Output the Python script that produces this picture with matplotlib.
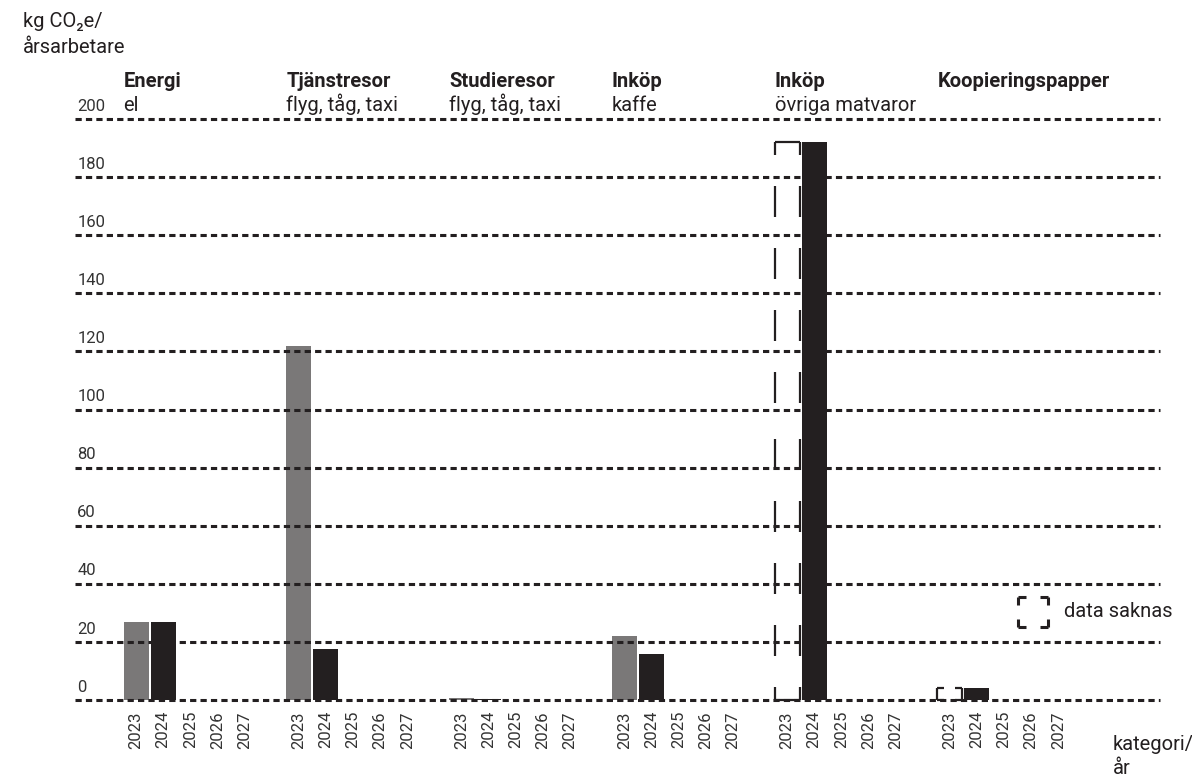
import matplotlib
matplotlib.use("Agg")
import matplotlib.pyplot as plt
from matplotlib.lines import Line2D

plt.rcParams['font.family'] = ['Roboto', 'DejaVu Sans']
plt.rcParams['lines.scale_dashes'] = False

# data
categories = ["Energi", "Tjänstresor", "Studieresor", "Inköp", "Inköp", "Koopieringspapper"]
subtitles = ["el", "flyg, tåg, taxi", "flyg, tåg, taxi", "kaffe", "övriga matvaror", ""]
years = ["2023", "2024", "2025", "2026", "2027"]
values_2023 = [27, 122, 0.6, 22, None, None]
values_2024 = [27, 17.5, 0.4, 16, 192, 4]
# height of the "data saknas" boxes (missing 2023 values)
missing_2023 = [None, None, None, None, 192, 4]
yticks = [0, 20, 40, 60, 80, 100, 120, 140, 160, 180, 200]

DARK = "#231f20"
GREY = "#7a7878"
PX = 0.72  # points per pixel at dpi 100


def dashed_box(ax, x0, x1, y0, y1, corner, on, off, lw=1.6, transform=None):
    # draw the box as half-sides starting from each corner so the corners stay solid
    if transform is None:
        transform = ax.transData
    xm, ym = (x0 + x1) / 2, (y0 + y1) / 2
    segs = [((x0, y0), (xm, y0)), ((x1, y0), (xm, y0)),
            ((x0, y1), (xm, y1)), ((x1, y1), (xm, y1)),
            ((x0, y0), (x0, ym)), ((x0, y1), (x0, ym)),
            ((x1, y0), (x1, ym)), ((x1, y1), (x1, ym))]
    ls = ((on - corner) * PX, (on * PX, off * PX))
    for (a, b) in segs:
        ax.add_line(Line2D([a[0], b[0]], [a[1], b[1]], transform=transform,
                           color=DARK, lw=lw, linestyle=ls, solid_capstyle='butt',
                           dash_capstyle='butt', clip_on=False, zorder=4))


fig = plt.figure(figsize=(11.92, 7.77), dpi=100)
ax = fig.add_axes([75 / 1192, 77 / 777, 1085 / 1192, 581 / 777])

slot = 6
bw = 0.92
pos_all = []
lab_all = []
for g in range(len(categories)):
    base = g * slot
    for j, yr in enumerate(years):
        pos_all.append(base + j)
        lab_all.append(yr)
    if values_2023[g] is not None:
        ax.bar(base, values_2023[g], width=bw, color=GREY, zorder=2)
    if values_2024[g] is not None:
        ax.bar(base + 1, values_2024[g], width=bw, color=DARK, zorder=2)
    if missing_2023[g] is not None:
        corner = 13 if missing_2023[g] > 50 else 7
        dashed_box(ax, base - bw / 2, base + bw / 2, 0, missing_2023[g],
                   corner, 31, 31)
    ax.annotate(categories[g], xy=(base - bw / 2, 200), xytext=(0, 23),
                textcoords='offset points', ha='left', va='baseline',
                fontsize=14.5, fontweight='bold', color=DARK, annotation_clip=False)
    if subtitles[g]:
        ax.annotate(subtitles[g], xy=(base - bw / 2, 200), xytext=(0, 5.8),
                    textcoords='offset points', ha='left', va='baseline',
                    fontsize=14.5, color=DARK, annotation_clip=False)

# dashed gridlines on top of the bars
for v in yticks:
    ax.axhline(v, color=DARK, lw=2.2, linestyle=(0, (4.5, 3.0)), zorder=3, clip_on=False)
    ax.annotate(str(v), xy=(0.002, v), xycoords=('axes fraction', 'data'),
                xytext=(0, 6), textcoords='offset points', ha='left', va='baseline',
                fontsize=12, color='#333333', annotation_clip=False)

ax.set_xlim(-2.25, 37.75)
ax.set_ylim(0, 200)
ax.set_xticks(pos_all)
ax.set_xticklabels(lab_all, rotation=90, fontsize=12, color='#333333')
ax.tick_params(axis='x', length=0, pad=8)
ax.set_yticks([])
for s in ax.spines.values():
    s.set_visible(False)

# legend for missing data
dashed_box(ax, 0.869, 0.897, 0.1256, 0.1773, 8, 16, 14, lw=2.2, transform=ax.transAxes)
ax.text(0.9115, 0.1515, "data saknas", transform=ax.transAxes, fontsize=14.5,
        color=DARK, va='center', ha='left')

fig.text(23 / 1192, 1 - 12 / 777, "kg CO₂e/\nårsarbetare", fontsize=14.5, color=DARK,
         va='top', ha='left', linespacing=1.45)
fig.text(1113 / 1192, 1 - 735 / 777, "kategori/\når", fontsize=14.5, color=DARK,
         va='top', ha='left', linespacing=1.3)

fig.savefig("out.png", dpi=100)
